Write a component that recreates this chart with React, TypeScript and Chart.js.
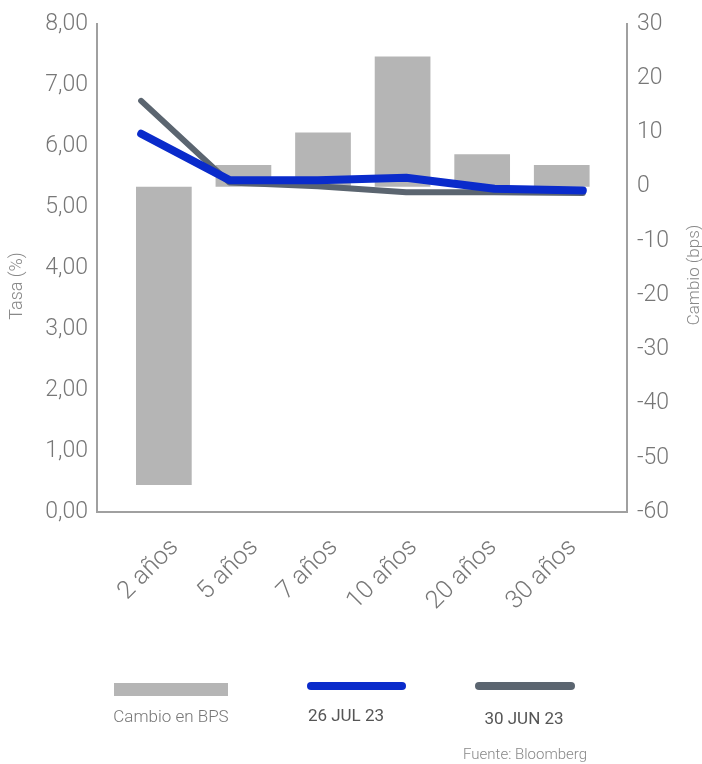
import React, { useEffect, useRef } from 'react';
import { Chart, registerables } from 'chart.js';

Chart.register(...registerables);

// ---- data ----
const categories = ['2 años', '5 años', '7 años', '10 años', '20 años', '30 años'];
const cambioBps = [-55, 4, 10, 24, 6, 4];
const tasaJul26 = [6.2, 5.44, 5.44, 5.48, 5.3, 5.27];
const tasaJun30 = [6.74, 5.4, 5.34, 5.24, 5.24, 5.23];
const leftTickLabels = ['0,00', '1,00', '2,00', '3,00', '4,00', '5,00', '6,00', '7,00', '8,00'];
const rightTickLabels = ['-60', '-50', '-40', '-30', '-20', '-10', '0', '10', '20', '30'];
const seriesLabels = ['Cambio en BPS', '26 JUL 23', '30 JUN 23'];
const leftTitle = 'Tasa (%)';
const rightTitle = 'Cambio (bps)';
const sourceNote = 'Fuente: Bloomberg';

// ---- styles ----
const BAR = '#b5b5b5';
const BLUE = '#0a2bcb';
const GRAY = '#5b6570';
const TICK = '#777777';
const AXIS = '#a0a0a0';
const FONT = 'Roboto, "DejaVu Sans", sans-serif';

const overlayPlugin = {
  id: 'overlay',
  afterDraw(chart: any) {
    const ctx = chart.ctx as CanvasRenderingContext2D;
    ctx.save();
    // axis titles
    ctx.fillStyle = '#888888';
    ctx.textAlign = 'center';
    ctx.textBaseline = 'middle';
    ctx.save();
    ctx.font = `300 18px ${FONT}`;
    ctx.translate(17, 286);
    ctx.rotate(-Math.PI / 2);
    ctx.fillText(leftTitle, 0, 0);
    ctx.restore();
    ctx.save();
    ctx.font = `300 17px ${FONT}`;
    ctx.translate(695, 275);
    ctx.rotate(-Math.PI / 2);
    ctx.fillText(rightTitle, 0, 0);
    ctx.restore();

    // legend
    const ds = chart.data.datasets;
    const barDs = ds.find((d: any) => d.type === 'bar');
    const blueDs = ds[0];
    const grayDs = ds[1];
    ctx.fillStyle = barDs.backgroundColor;
    ctx.fillRect(114, 683, 114, 13);

    ctx.lineCap = 'round';
    ctx.lineWidth = 8;
    ctx.strokeStyle = blueDs.borderColor;
    ctx.beginPath();
    ctx.moveTo(311, 686);
    ctx.lineTo(402, 686);
    ctx.stroke();
    ctx.strokeStyle = grayDs.borderColor;
    ctx.beginPath();
    ctx.moveTo(479, 686);
    ctx.lineTo(571, 686);
    ctx.stroke();

    ctx.font = `300 17px ${FONT}`;
    ctx.textAlign = 'center';
    ctx.fillStyle = '#777777';
    ctx.fillText(seriesLabels[0], 171, 718);
    ctx.font = `17px ${FONT}`;
    ctx.fillStyle = '#555555';
    ctx.fillText(seriesLabels[1], 346, 717);
    ctx.fillText(seriesLabels[2], 524, 720);

    ctx.font = `300 15px ${FONT}`;
    ctx.fillStyle = '#888888';
    ctx.textAlign = 'right';
    ctx.fillText(sourceNote, 587, 755);
    ctx.restore();
  },
};

export default function App() {
  const ref = useRef<HTMLCanvasElement>(null);

  useEffect(() => {
    const canvas = ref.current!;
    const yTickFont = { family: FONT, size: 23, weight: '300' as any };
    const xTickFont = { family: FONT, size: 25, weight: '300' as any };
    const chart = new Chart(canvas, {
      type: 'bar',
      data: {
        labels: categories,
        datasets: [
          {
            type: 'line',
            label: seriesLabels[1],
            data: tasaJul26,
            xAxisID: 'xLine',
            yAxisID: 'yRate',
            borderColor: BLUE,
            backgroundColor: BLUE,
            borderWidth: 8,
            pointRadius: 0,
            borderCapStyle: 'round',
            borderJoinStyle: 'round',
            tension: 0,
            order: 0,
          } as any,
          {
            type: 'line',
            label: seriesLabels[2],
            data: tasaJun30,
            xAxisID: 'xLine',
            yAxisID: 'yRate',
            borderColor: GRAY,
            backgroundColor: GRAY,
            borderWidth: 6,
            pointRadius: 0,
            borderCapStyle: 'round',
            borderJoinStyle: 'round',
            tension: 0,
            order: 1,
          } as any,
          {
            type: 'bar',
            label: seriesLabels[0],
            data: cambioBps.map((v, i) => ({ x: i, y: v })),
            xAxisID: 'xBar',
            yAxisID: 'yBps',
            backgroundColor: BAR,
            grouped: false,
            categoryPercentage: 0.7,
            barPercentage: 1,
            order: 2,
          } as any,
        ],
      },
      options: {
        responsive: false,
        maintainAspectRatio: false,
        animation: false,
        devicePixelRatio: 1,
        layout: { padding: { top: 24, left: 0, right: 0, bottom: 0 } },
        plugins: {
          legend: { display: false },
          tooltip: { enabled: false },
        },
        scales: {
          xLine: {
            type: 'category',
            offset: true,
            display: false,
          },
          xBar: {
            type: 'linear',
            position: 'bottom',
            min: -0.84,
            max: 5.82,
            offset: false,
            grid: { display: false, drawTicks: false },
            border: { display: true, color: AXIS, width: 2 },
            ticks: {
              stepSize: 1,
              includeBounds: false,
              autoSkip: false,
              minRotation: 45,
              maxRotation: 45,
              padding: 21,
              labelOffset: 11,
              color: TICK,
              font: xTickFont,
              callback: (v: any) => (Number.isInteger(v) && categories[v] !== undefined ? categories[v] : ''),
            },
            afterFit: (s: any) => {
              s.height = 252;
            },
          } as any,
          yRate: {
            type: 'linear',
            position: 'left',
            min: 0,
            max: 8,
            grid: { display: false, drawTicks: false },
            border: { display: true, color: AXIS, width: 2 },
            ticks: {
              stepSize: 1,
              padding: 9,
              color: TICK,
              font: yTickFont,
              callback: (v: any) => leftTickLabels[Math.round(v)],
            },
            afterFit: (s: any) => {
              s.width = 97;
            },
          } as any,
          yBps: {
            type: 'linear',
            position: 'right',
            min: -60,
            max: 30,
            grid: { display: false, drawTicks: false },
            border: { display: true, color: AXIS, width: 2 },
            ticks: {
              stepSize: 10,
              padding: 10,
              color: TICK,
              font: yTickFont,
              callback: (v: any) => rightTickLabels[Math.round((v + 60) / 10)],
            },
            afterFit: (s: any) => {
              s.width = 75;
            },
          } as any,
        },
      },
      plugins: [overlayPlugin],
    });
    return () => chart.destroy();
  }, []);

  return (
    <div style={{ position: 'absolute', left: 0, top: 0, width: 702, height: 764, background: '#fff' }}>
      <canvas ref={ref} width={702} height={764} style={{ width: 702, height: 764, display: 'block' }} />
    </div>
  );
}
